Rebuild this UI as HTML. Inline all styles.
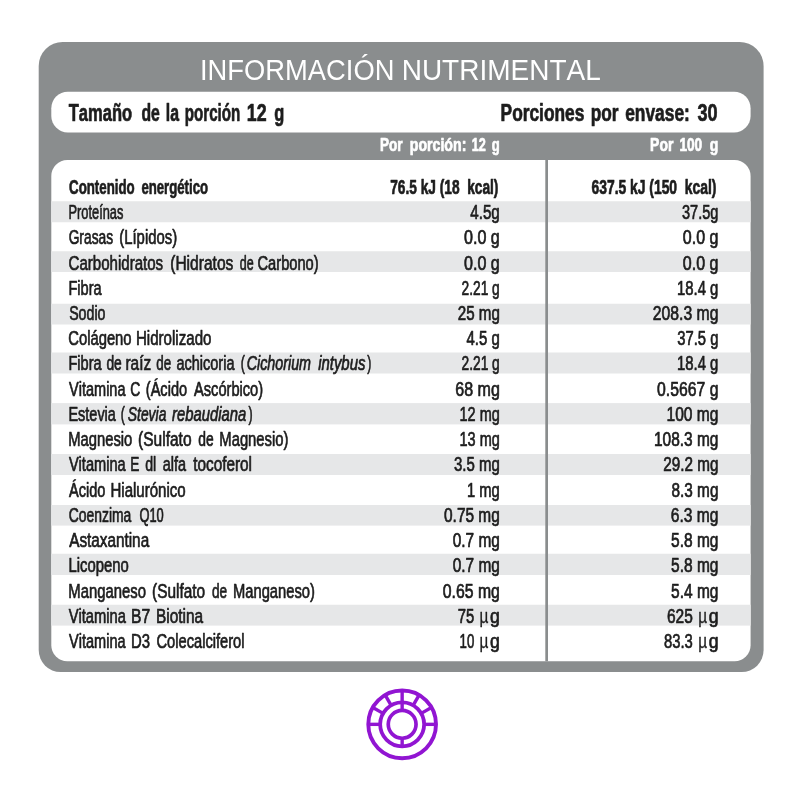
<!DOCTYPE html>
<html lang="es"><head><meta charset="utf-8"><title>Información Nutrimental</title>
<style>html,body{margin:0;padding:0;background:#fff}svg{display:block}text{font-family:"Liberation Sans",sans-serif;font-kerning:none;white-space:pre}</style></head><body>
<svg width="800" height="800" viewBox="0 0 800 800">
<rect width="800" height="800" fill="#fff"/>
<path fill="#8a8d8e" d="M62.7,42H739.6A24,24 0 0 1 763.6,66V650.1A22,22 0 0 1 741.6,672.1H60.7A22,22 0 0 1 38.7,650.1V66A24,24 0 0 1 62.7,42Z"/>
<rect x="51.3" y="91.7" width="699.3" height="40.7" rx="16.5" ry="16.5" fill="#fff"/>
<clipPath id="box"><rect x="51.3" y="160" width="699.3" height="501.3" rx="16" ry="16"/></clipPath>
<rect x="51.3" y="160" width="699.3" height="501.3" rx="16" ry="16" fill="#fff"/>
<g clip-path="url(#box)">
<rect x="51" y="201.25" width="700" height="21.00" fill="#e6e7e8"/>
<rect x="51" y="251.25" width="700" height="20.75" fill="#e6e7e8"/>
<rect x="51" y="303.75" width="700" height="20.75" fill="#e6e7e8"/>
<rect x="51" y="352.50" width="700" height="21.00" fill="#e6e7e8"/>
<rect x="51" y="403.10" width="700" height="21.30" fill="#e6e7e8"/>
<rect x="51" y="454.00" width="700" height="21.00" fill="#e6e7e8"/>
<rect x="51" y="505.00" width="700" height="20.60" fill="#e6e7e8"/>
<rect x="51" y="553.75" width="700" height="21.25" fill="#e6e7e8"/>
<rect x="51" y="604.75" width="700" height="20.85" fill="#e6e7e8"/>
<rect x="545.3" y="159" width="2.7" height="503" fill="#8a8d8e"/>
</g>
<text x="200.03" y="79.90" font-size="29.4" fill="#ffffff" textLength="194.40" lengthAdjust="spacingAndGlyphs" xml:space="preserve">INFORMACIÓN</text>
<text x="401.71" y="79.90" font-size="29.4" fill="#ffffff" textLength="199.01" lengthAdjust="spacingAndGlyphs" xml:space="preserve">NUTRIMENTAL</text>
<text x="68.69" y="120.50" font-size="23.3" fill="#1d1d1d" textLength="63.39" lengthAdjust="spacingAndGlyphs" stroke="#1d1d1d" stroke-width="0.7" stroke-linejoin="round" font-weight="bold" xml:space="preserve">Tamaño</text>
<text x="141.43" y="120.50" font-size="23.3" fill="#1d1d1d" textLength="18.36" lengthAdjust="spacingAndGlyphs" stroke="#1d1d1d" stroke-width="0.7" stroke-linejoin="round" font-weight="bold" xml:space="preserve">de</text>
<text x="165.83" y="120.50" font-size="23.3" fill="#1d1d1d" textLength="13.19" lengthAdjust="spacingAndGlyphs" stroke="#1d1d1d" stroke-width="0.7" stroke-linejoin="round" font-weight="bold" xml:space="preserve">la</text>
<text x="184.81" y="120.50" font-size="23.3" fill="#1d1d1d" textLength="55.53" lengthAdjust="spacingAndGlyphs" stroke="#1d1d1d" stroke-width="0.7" stroke-linejoin="round" font-weight="bold" xml:space="preserve">porción</text>
<text x="246.83" y="120.50" font-size="23.3" fill="#1d1d1d" textLength="19.79" lengthAdjust="spacingAndGlyphs" stroke="#1d1d1d" stroke-width="0.7" stroke-linejoin="round" font-weight="bold" xml:space="preserve">12</text>
<text x="274.17" y="120.50" font-size="23.3" fill="#1d1d1d" textLength="10.04" lengthAdjust="spacingAndGlyphs" stroke="#1d1d1d" stroke-width="0.7" stroke-linejoin="round" font-weight="bold" xml:space="preserve">g</text>
<text x="500.57" y="120.50" font-size="23.3" fill="#1d1d1d" textLength="83.82" lengthAdjust="spacingAndGlyphs" stroke="#1d1d1d" stroke-width="0.7" stroke-linejoin="round" font-weight="bold" xml:space="preserve">Porciones</text>
<text x="590.77" y="120.50" font-size="23.3" fill="#1d1d1d" textLength="27.78" lengthAdjust="spacingAndGlyphs" stroke="#1d1d1d" stroke-width="0.7" stroke-linejoin="round" font-weight="bold" xml:space="preserve">por</text>
<text x="625.18" y="120.50" font-size="23.3" fill="#1d1d1d" textLength="64.70" lengthAdjust="spacingAndGlyphs" stroke="#1d1d1d" stroke-width="0.7" stroke-linejoin="round" font-weight="bold" xml:space="preserve">envase:</text>
<text x="697.57" y="120.50" font-size="23.3" fill="#1d1d1d" textLength="20.11" lengthAdjust="spacingAndGlyphs" stroke="#1d1d1d" stroke-width="0.7" stroke-linejoin="round" font-weight="bold" xml:space="preserve">30</text>
<text x="380.06" y="151.10" font-size="17.6" fill="#ffffff" textLength="22.60" lengthAdjust="spacingAndGlyphs" stroke="#ffffff" stroke-width="0.7" stroke-linejoin="round" font-weight="bold" xml:space="preserve">Por</text>
<text x="409.78" y="151.10" font-size="17.6" fill="#ffffff" textLength="56.58" lengthAdjust="spacingAndGlyphs" stroke="#ffffff" stroke-width="0.7" stroke-linejoin="round" font-weight="bold" xml:space="preserve">porción:</text>
<text x="471.79" y="151.10" font-size="17.6" fill="#ffffff" textLength="14.05" lengthAdjust="spacingAndGlyphs" stroke="#ffffff" stroke-width="0.7" stroke-linejoin="round" font-weight="bold" xml:space="preserve">12</text>
<text x="491.79" y="151.10" font-size="17.6" fill="#ffffff" textLength="7.98" lengthAdjust="spacingAndGlyphs" stroke="#ffffff" stroke-width="0.7" stroke-linejoin="round" font-weight="bold" xml:space="preserve">g</text>
<text x="650.10" y="150.80" font-size="17.6" fill="#ffffff" textLength="23.24" lengthAdjust="spacingAndGlyphs" stroke="#ffffff" stroke-width="0.7" stroke-linejoin="round" font-weight="bold" xml:space="preserve">Por</text>
<text x="679.38" y="150.80" font-size="17.6" fill="#ffffff" textLength="22.79" lengthAdjust="spacingAndGlyphs" stroke="#ffffff" stroke-width="0.7" stroke-linejoin="round" font-weight="bold" xml:space="preserve">100</text>
<text x="709.66" y="150.80" font-size="17.6" fill="#ffffff" textLength="8.52" lengthAdjust="spacingAndGlyphs" stroke="#ffffff" stroke-width="0.7" stroke-linejoin="round" font-weight="bold" xml:space="preserve">g</text>
<text x="69.06" y="193.75" font-size="19.6" fill="#1d1d1d" textLength="65.62" lengthAdjust="spacingAndGlyphs" stroke="#1d1d1d" stroke-width="0.7" stroke-linejoin="round" font-weight="bold" xml:space="preserve">Contenido</text>
<text x="141.42" y="193.75" font-size="19.6" fill="#1d1d1d" textLength="66.64" lengthAdjust="spacingAndGlyphs" stroke="#1d1d1d" stroke-width="0.7" stroke-linejoin="round" font-weight="bold" xml:space="preserve">energético</text>
<text x="390.25" y="193.75" font-size="19.6" fill="#1d1d1d" textLength="108.13" lengthAdjust="spacingAndGlyphs" stroke="#1d1d1d" stroke-width="0.7" stroke-linejoin="round" font-weight="bold" xml:space="preserve">76.5 kJ (18  kcal)</text>
<text x="591.50" y="193.75" font-size="19.6" fill="#1d1d1d" textLength="124.87" lengthAdjust="spacingAndGlyphs" stroke="#1d1d1d" stroke-width="0.7" stroke-linejoin="round" font-weight="bold" xml:space="preserve">637.5 kJ (150  kcal)</text>
<text x="68.48" y="219.10" font-size="19.6" fill="#1d1d1d" textLength="54.91" lengthAdjust="spacingAndGlyphs" stroke="#1d1d1d" stroke-width="0.7" stroke-linejoin="round" xml:space="preserve">Proteínas</text>
<text x="470.28" y="219.10" font-size="19.6" fill="#1d1d1d" textLength="29.54" lengthAdjust="spacingAndGlyphs" stroke="#1d1d1d" stroke-width="0.7" stroke-linejoin="round" xml:space="preserve">4.5g</text>
<text x="682.01" y="219.10" font-size="19.6" fill="#1d1d1d" textLength="36.39" lengthAdjust="spacingAndGlyphs" stroke="#1d1d1d" stroke-width="0.7" stroke-linejoin="round" xml:space="preserve">37.5g</text>
<text x="68.65" y="244.33" font-size="19.6" fill="#1d1d1d" textLength="44.46" lengthAdjust="spacingAndGlyphs" stroke="#1d1d1d" stroke-width="0.7" stroke-linejoin="round" xml:space="preserve">Grasas</text>
<text x="119.26" y="244.33" font-size="19.6" fill="#1d1d1d" textLength="57.87" lengthAdjust="spacingAndGlyphs" stroke="#1d1d1d" stroke-width="0.7" stroke-linejoin="round" xml:space="preserve">(Lípidos)</text>
<text x="464.04" y="244.33" font-size="19.6" fill="#1d1d1d" textLength="35.80" lengthAdjust="spacingAndGlyphs" stroke="#1d1d1d" stroke-width="0.7" stroke-linejoin="round" xml:space="preserve">0.0 g</text>
<text x="682.79" y="244.33" font-size="19.6" fill="#1d1d1d" textLength="35.65" lengthAdjust="spacingAndGlyphs" stroke="#1d1d1d" stroke-width="0.7" stroke-linejoin="round" xml:space="preserve">0.0 g</text>
<text x="68.58" y="269.56" font-size="19.6" fill="#1d1d1d" textLength="94.56" lengthAdjust="spacingAndGlyphs" stroke="#1d1d1d" stroke-width="0.7" stroke-linejoin="round" xml:space="preserve">Carbohidratos</text>
<text x="170.21" y="269.56" font-size="19.6" fill="#1d1d1d" textLength="63.13" lengthAdjust="spacingAndGlyphs" stroke="#1d1d1d" stroke-width="0.7" stroke-linejoin="round" xml:space="preserve">(Hidratos</text>
<text x="239.80" y="269.56" font-size="19.6" fill="#1d1d1d" textLength="13.93" lengthAdjust="spacingAndGlyphs" stroke="#1d1d1d" stroke-width="0.7" stroke-linejoin="round" xml:space="preserve">de</text>
<text x="257.54" y="269.56" font-size="19.6" fill="#1d1d1d" textLength="61.11" lengthAdjust="spacingAndGlyphs" stroke="#1d1d1d" stroke-width="0.7" stroke-linejoin="round" xml:space="preserve">Carbono)</text>
<text x="464.04" y="269.56" font-size="19.6" fill="#1d1d1d" textLength="35.80" lengthAdjust="spacingAndGlyphs" stroke="#1d1d1d" stroke-width="0.7" stroke-linejoin="round" xml:space="preserve">0.0 g</text>
<text x="682.79" y="269.56" font-size="19.6" fill="#1d1d1d" textLength="35.65" lengthAdjust="spacingAndGlyphs" stroke="#1d1d1d" stroke-width="0.7" stroke-linejoin="round" xml:space="preserve">0.0 g</text>
<text x="68.42" y="294.79" font-size="19.6" fill="#1d1d1d" textLength="33.24" lengthAdjust="spacingAndGlyphs" stroke="#1d1d1d" stroke-width="0.7" stroke-linejoin="round" xml:space="preserve">Fibra</text>
<text x="461.50" y="294.79" font-size="19.6" fill="#1d1d1d" textLength="38.28" lengthAdjust="spacingAndGlyphs" stroke="#1d1d1d" stroke-width="0.7" stroke-linejoin="round" xml:space="preserve">2.21 g</text>
<text x="677.01" y="294.79" font-size="19.6" fill="#1d1d1d" textLength="41.40" lengthAdjust="spacingAndGlyphs" stroke="#1d1d1d" stroke-width="0.7" stroke-linejoin="round" xml:space="preserve">18.4 g</text>
<text x="69.16" y="320.02" font-size="19.6" fill="#1d1d1d" textLength="36.26" lengthAdjust="spacingAndGlyphs" stroke="#1d1d1d" stroke-width="0.7" stroke-linejoin="round" xml:space="preserve">Sodio</text>
<text x="457.77" y="320.02" font-size="19.6" fill="#1d1d1d" textLength="42.05" lengthAdjust="spacingAndGlyphs" stroke="#1d1d1d" stroke-width="0.7" stroke-linejoin="round" xml:space="preserve">25 mg</text>
<text x="652.78" y="320.02" font-size="19.6" fill="#1d1d1d" textLength="65.65" lengthAdjust="spacingAndGlyphs" stroke="#1d1d1d" stroke-width="0.7" stroke-linejoin="round" xml:space="preserve">208.3 mg</text>
<text x="68.23" y="345.25" font-size="19.6" fill="#1d1d1d" textLength="63.35" lengthAdjust="spacingAndGlyphs" stroke="#1d1d1d" stroke-width="0.7" stroke-linejoin="round" xml:space="preserve">Colágeno</text>
<text x="135.93" y="345.25" font-size="19.6" fill="#1d1d1d" textLength="75.54" lengthAdjust="spacingAndGlyphs" stroke="#1d1d1d" stroke-width="0.7" stroke-linejoin="round" xml:space="preserve">Hidrolizado</text>
<text x="466.52" y="345.25" font-size="19.6" fill="#1d1d1d" textLength="33.29" lengthAdjust="spacingAndGlyphs" stroke="#1d1d1d" stroke-width="0.7" stroke-linejoin="round" xml:space="preserve">4.5 g</text>
<text x="677.27" y="345.25" font-size="19.6" fill="#1d1d1d" textLength="41.14" lengthAdjust="spacingAndGlyphs" stroke="#1d1d1d" stroke-width="0.7" stroke-linejoin="round" xml:space="preserve">37.5 g</text>
<text x="68.48" y="370.48" font-size="19.6" fill="#1d1d1d" textLength="33.13" lengthAdjust="spacingAndGlyphs" stroke="#1d1d1d" stroke-width="0.7" stroke-linejoin="round" xml:space="preserve">Fibra</text>
<text x="106.39" y="370.48" font-size="19.6" fill="#1d1d1d" textLength="15.40" lengthAdjust="spacingAndGlyphs" stroke="#1d1d1d" stroke-width="0.7" stroke-linejoin="round" xml:space="preserve">de</text>
<text x="125.45" y="370.48" font-size="19.6" fill="#1d1d1d" textLength="25.68" lengthAdjust="spacingAndGlyphs" stroke="#1d1d1d" stroke-width="0.7" stroke-linejoin="round" xml:space="preserve">raíz</text>
<text x="156.25" y="370.48" font-size="19.6" fill="#1d1d1d" textLength="14.93" lengthAdjust="spacingAndGlyphs" stroke="#1d1d1d" stroke-width="0.7" stroke-linejoin="round" xml:space="preserve">de</text>
<text x="176.45" y="370.48" font-size="19.6" fill="#1d1d1d" textLength="58.02" lengthAdjust="spacingAndGlyphs" stroke="#1d1d1d" stroke-width="0.7" stroke-linejoin="round" xml:space="preserve">achicoria</text>
<text x="240.82" y="370.48" font-size="19.6" fill="#1d1d1d" textLength="4.17" lengthAdjust="spacingAndGlyphs" stroke="#1d1d1d" stroke-width="0.7" stroke-linejoin="round" xml:space="preserve">(</text>
<text x="246.70" y="370.48" font-size="19.6" fill="#1d1d1d" textLength="64.35" lengthAdjust="spacingAndGlyphs" stroke="#1d1d1d" stroke-width="0.7" stroke-linejoin="round" font-style="italic" xml:space="preserve">Cichorium</text>
<text x="318.13" y="370.48" font-size="19.6" fill="#1d1d1d" textLength="47.33" lengthAdjust="spacingAndGlyphs" stroke="#1d1d1d" stroke-width="0.7" stroke-linejoin="round" font-style="italic" xml:space="preserve">intybus</text>
<text x="367.37" y="370.48" font-size="19.6" fill="#1d1d1d" textLength="4.04" lengthAdjust="spacingAndGlyphs" stroke="#1d1d1d" stroke-width="0.7" stroke-linejoin="round" xml:space="preserve">)</text>
<text x="461.50" y="370.48" font-size="19.6" fill="#1d1d1d" textLength="38.28" lengthAdjust="spacingAndGlyphs" stroke="#1d1d1d" stroke-width="0.7" stroke-linejoin="round" xml:space="preserve">2.21 g</text>
<text x="677.01" y="370.48" font-size="19.6" fill="#1d1d1d" textLength="41.40" lengthAdjust="spacingAndGlyphs" stroke="#1d1d1d" stroke-width="0.7" stroke-linejoin="round" xml:space="preserve">18.4 g</text>
<text x="69.09" y="395.71" font-size="19.6" fill="#1d1d1d" textLength="56.40" lengthAdjust="spacingAndGlyphs" stroke="#1d1d1d" stroke-width="0.7" stroke-linejoin="round" xml:space="preserve">Vitamina</text>
<text x="130.30" y="395.71" font-size="19.6" fill="#1d1d1d" textLength="10.04" lengthAdjust="spacingAndGlyphs" stroke="#1d1d1d" stroke-width="0.7" stroke-linejoin="round" xml:space="preserve">C</text>
<text x="145.81" y="395.71" font-size="19.6" fill="#1d1d1d" textLength="41.30" lengthAdjust="spacingAndGlyphs" stroke="#1d1d1d" stroke-width="0.7" stroke-linejoin="round" xml:space="preserve">(Ácido</text>
<text x="194.05" y="395.71" font-size="19.6" fill="#1d1d1d" textLength="69.05" lengthAdjust="spacingAndGlyphs" stroke="#1d1d1d" stroke-width="0.7" stroke-linejoin="round" xml:space="preserve">Ascórbico)</text>
<text x="455.22" y="395.71" font-size="19.6" fill="#1d1d1d" textLength="44.62" lengthAdjust="spacingAndGlyphs" stroke="#1d1d1d" stroke-width="0.7" stroke-linejoin="round" xml:space="preserve">68 mg</text>
<text x="657.03" y="395.71" font-size="19.6" fill="#1d1d1d" textLength="61.40" lengthAdjust="spacingAndGlyphs" stroke="#1d1d1d" stroke-width="0.7" stroke-linejoin="round" xml:space="preserve">0.5667 g</text>
<text x="68.45" y="420.94" font-size="19.6" fill="#1d1d1d" textLength="47.43" lengthAdjust="spacingAndGlyphs" stroke="#1d1d1d" stroke-width="0.7" stroke-linejoin="round" xml:space="preserve">Estevia</text>
<text x="120.83" y="420.94" font-size="19.6" fill="#1d1d1d" textLength="4.16" lengthAdjust="spacingAndGlyphs" stroke="#1d1d1d" stroke-width="0.7" stroke-linejoin="round" xml:space="preserve">(</text>
<text x="127.84" y="420.94" font-size="19.6" fill="#1d1d1d" textLength="38.51" lengthAdjust="spacingAndGlyphs" stroke="#1d1d1d" stroke-width="0.7" stroke-linejoin="round" font-style="italic" xml:space="preserve">Stevia</text>
<text x="171.98" y="420.94" font-size="19.6" fill="#1d1d1d" textLength="74.20" lengthAdjust="spacingAndGlyphs" stroke="#1d1d1d" stroke-width="0.7" stroke-linejoin="round" font-style="italic" xml:space="preserve">rebaudiana</text>
<text x="248.50" y="420.94" font-size="19.6" fill="#1d1d1d" textLength="4.12" lengthAdjust="spacingAndGlyphs" stroke="#1d1d1d" stroke-width="0.7" stroke-linejoin="round" xml:space="preserve">)</text>
<text x="459.52" y="420.94" font-size="19.6" fill="#1d1d1d" textLength="40.28" lengthAdjust="spacingAndGlyphs" stroke="#1d1d1d" stroke-width="0.7" stroke-linejoin="round" xml:space="preserve">12 mg</text>
<text x="666.49" y="420.94" font-size="19.6" fill="#1d1d1d" textLength="51.95" lengthAdjust="spacingAndGlyphs" stroke="#1d1d1d" stroke-width="0.7" stroke-linejoin="round" xml:space="preserve">100 mg</text>
<text x="68.24" y="446.17" font-size="19.6" fill="#1d1d1d" textLength="64.09" lengthAdjust="spacingAndGlyphs" stroke="#1d1d1d" stroke-width="0.7" stroke-linejoin="round" xml:space="preserve">Magnesio</text>
<text x="138.07" y="446.17" font-size="19.6" fill="#1d1d1d" textLength="53.49" lengthAdjust="spacingAndGlyphs" stroke="#1d1d1d" stroke-width="0.7" stroke-linejoin="round" xml:space="preserve">(Sulfato</text>
<text x="198.27" y="446.17" font-size="19.6" fill="#1d1d1d" textLength="15.38" lengthAdjust="spacingAndGlyphs" stroke="#1d1d1d" stroke-width="0.7" stroke-linejoin="round" xml:space="preserve">de</text>
<text x="219.33" y="446.17" font-size="19.6" fill="#1d1d1d" textLength="69.07" lengthAdjust="spacingAndGlyphs" stroke="#1d1d1d" stroke-width="0.7" stroke-linejoin="round" xml:space="preserve">Magnesio)</text>
<text x="459.52" y="446.17" font-size="19.6" fill="#1d1d1d" textLength="40.28" lengthAdjust="spacingAndGlyphs" stroke="#1d1d1d" stroke-width="0.7" stroke-linejoin="round" xml:space="preserve">13 mg</text>
<text x="653.99" y="446.17" font-size="19.6" fill="#1d1d1d" textLength="64.44" lengthAdjust="spacingAndGlyphs" stroke="#1d1d1d" stroke-width="0.7" stroke-linejoin="round" xml:space="preserve">108.3 mg</text>
<text x="68.88" y="471.40" font-size="19.6" fill="#1d1d1d" textLength="56.81" lengthAdjust="spacingAndGlyphs" stroke="#1d1d1d" stroke-width="0.7" stroke-linejoin="round" xml:space="preserve">Vitamina</text>
<text x="130.23" y="471.40" font-size="19.6" fill="#1d1d1d" textLength="9.13" lengthAdjust="spacingAndGlyphs" stroke="#1d1d1d" stroke-width="0.7" stroke-linejoin="round" xml:space="preserve">E</text>
<text x="145.24" y="471.40" font-size="19.6" fill="#1d1d1d" textLength="11.03" lengthAdjust="spacingAndGlyphs" stroke="#1d1d1d" stroke-width="0.7" stroke-linejoin="round" xml:space="preserve">dl</text>
<text x="162.67" y="471.40" font-size="19.6" fill="#1d1d1d" textLength="23.33" lengthAdjust="spacingAndGlyphs" stroke="#1d1d1d" stroke-width="0.7" stroke-linejoin="round" xml:space="preserve">alfa</text>
<text x="193.25" y="471.40" font-size="19.6" fill="#1d1d1d" textLength="58.77" lengthAdjust="spacingAndGlyphs" stroke="#1d1d1d" stroke-width="0.7" stroke-linejoin="round" xml:space="preserve">tocoferol</text>
<text x="454.02" y="471.40" font-size="19.6" fill="#1d1d1d" textLength="45.79" lengthAdjust="spacingAndGlyphs" stroke="#1d1d1d" stroke-width="0.7" stroke-linejoin="round" xml:space="preserve">3.5 mg</text>
<text x="663.28" y="471.40" font-size="19.6" fill="#1d1d1d" textLength="55.15" lengthAdjust="spacingAndGlyphs" stroke="#1d1d1d" stroke-width="0.7" stroke-linejoin="round" xml:space="preserve">29.2 mg</text>
<text x="68.98" y="496.63" font-size="19.6" fill="#1d1d1d" textLength="36.36" lengthAdjust="spacingAndGlyphs" stroke="#1d1d1d" stroke-width="0.7" stroke-linejoin="round" xml:space="preserve">Ácido</text>
<text x="110.44" y="496.63" font-size="19.6" fill="#1d1d1d" textLength="75.28" lengthAdjust="spacingAndGlyphs" stroke="#1d1d1d" stroke-width="0.7" stroke-linejoin="round" xml:space="preserve">Hialurónico</text>
<text x="467.02" y="496.63" font-size="19.6" fill="#1d1d1d" textLength="32.79" lengthAdjust="spacingAndGlyphs" stroke="#1d1d1d" stroke-width="0.7" stroke-linejoin="round" xml:space="preserve">1 mg</text>
<text x="671.53" y="496.63" font-size="19.6" fill="#1d1d1d" textLength="46.90" lengthAdjust="spacingAndGlyphs" stroke="#1d1d1d" stroke-width="0.7" stroke-linejoin="round" xml:space="preserve">8.3 mg</text>
<text x="68.76" y="521.86" font-size="19.6" fill="#1d1d1d" textLength="62.60" lengthAdjust="spacingAndGlyphs" stroke="#1d1d1d" stroke-width="0.7" stroke-linejoin="round" xml:space="preserve">Coenzima</text>
<text x="139.42" y="521.86" font-size="19.6" fill="#1d1d1d" textLength="24.35" lengthAdjust="spacingAndGlyphs" stroke="#1d1d1d" stroke-width="0.7" stroke-linejoin="round" xml:space="preserve">Q10</text>
<text x="444.03" y="521.86" font-size="19.6" fill="#1d1d1d" textLength="55.80" lengthAdjust="spacingAndGlyphs" stroke="#1d1d1d" stroke-width="0.7" stroke-linejoin="round" xml:space="preserve">0.75 mg</text>
<text x="670.74" y="521.86" font-size="19.6" fill="#1d1d1d" textLength="47.70" lengthAdjust="spacingAndGlyphs" stroke="#1d1d1d" stroke-width="0.7" stroke-linejoin="round" xml:space="preserve">6.3 mg</text>
<text x="69.18" y="547.09" font-size="19.6" fill="#1d1d1d" textLength="79.97" lengthAdjust="spacingAndGlyphs" stroke="#1d1d1d" stroke-width="0.7" stroke-linejoin="round" xml:space="preserve">Astaxantina</text>
<text x="452.78" y="547.09" font-size="19.6" fill="#1d1d1d" textLength="47.05" lengthAdjust="spacingAndGlyphs" stroke="#1d1d1d" stroke-width="0.7" stroke-linejoin="round" xml:space="preserve">0.7 mg</text>
<text x="671.03" y="547.09" font-size="19.6" fill="#1d1d1d" textLength="47.40" lengthAdjust="spacingAndGlyphs" stroke="#1d1d1d" stroke-width="0.7" stroke-linejoin="round" xml:space="preserve">5.8 mg</text>
<text x="68.41" y="572.32" font-size="19.6" fill="#1d1d1d" textLength="60.24" lengthAdjust="spacingAndGlyphs" stroke="#1d1d1d" stroke-width="0.7" stroke-linejoin="round" xml:space="preserve">Licopeno</text>
<text x="452.78" y="572.32" font-size="19.6" fill="#1d1d1d" textLength="47.05" lengthAdjust="spacingAndGlyphs" stroke="#1d1d1d" stroke-width="0.7" stroke-linejoin="round" xml:space="preserve">0.7 mg</text>
<text x="671.03" y="572.32" font-size="19.6" fill="#1d1d1d" textLength="47.40" lengthAdjust="spacingAndGlyphs" stroke="#1d1d1d" stroke-width="0.7" stroke-linejoin="round" xml:space="preserve">5.8 mg</text>
<text x="68.37" y="597.55" font-size="19.6" fill="#1d1d1d" textLength="77.58" lengthAdjust="spacingAndGlyphs" stroke="#1d1d1d" stroke-width="0.7" stroke-linejoin="round" xml:space="preserve">Manganeso</text>
<text x="152.03" y="597.55" font-size="19.6" fill="#1d1d1d" textLength="53.07" lengthAdjust="spacingAndGlyphs" stroke="#1d1d1d" stroke-width="0.7" stroke-linejoin="round" xml:space="preserve">(Sulfato</text>
<text x="211.99" y="597.55" font-size="19.6" fill="#1d1d1d" textLength="15.19" lengthAdjust="spacingAndGlyphs" stroke="#1d1d1d" stroke-width="0.7" stroke-linejoin="round" xml:space="preserve">de</text>
<text x="233.03" y="597.55" font-size="19.6" fill="#1d1d1d" textLength="81.84" lengthAdjust="spacingAndGlyphs" stroke="#1d1d1d" stroke-width="0.7" stroke-linejoin="round" xml:space="preserve">Manganeso)</text>
<text x="442.78" y="597.55" font-size="19.6" fill="#1d1d1d" textLength="57.05" lengthAdjust="spacingAndGlyphs" stroke="#1d1d1d" stroke-width="0.7" stroke-linejoin="round" xml:space="preserve">0.65 mg</text>
<text x="671.03" y="597.55" font-size="19.6" fill="#1d1d1d" textLength="47.40" lengthAdjust="spacingAndGlyphs" stroke="#1d1d1d" stroke-width="0.7" stroke-linejoin="round" xml:space="preserve">5.4 mg</text>
<text x="68.67" y="622.78" font-size="19.6" fill="#1d1d1d" textLength="57.24" lengthAdjust="spacingAndGlyphs" stroke="#1d1d1d" stroke-width="0.7" stroke-linejoin="round" xml:space="preserve">Vitamina</text>
<text x="131.00" y="622.78" font-size="19.6" fill="#1d1d1d" textLength="19.17" lengthAdjust="spacingAndGlyphs" stroke="#1d1d1d" stroke-width="0.7" stroke-linejoin="round" xml:space="preserve">B7</text>
<text x="155.98" y="622.78" font-size="19.6" fill="#1d1d1d" textLength="47.18" lengthAdjust="spacingAndGlyphs" stroke="#1d1d1d" stroke-width="0.7" stroke-linejoin="round" xml:space="preserve">Biotina</text>
<text x="457.77" y="622.78" font-size="19.6" fill="#1d1d1d" textLength="16.48" lengthAdjust="spacingAndGlyphs" stroke="#1d1d1d" stroke-width="0.7" stroke-linejoin="round" xml:space="preserve">75</text>
<text x="479.62" y="622.78" font-size="19.992" fill="#1d1d1d" textLength="8.86" lengthAdjust="spacingAndGlyphs" stroke="#1d1d1d" stroke-width="0.3" stroke-linejoin="round" font-family='"Liberation Serif",serif' xml:space="preserve">µ</text>
<text x="490.04" y="622.78" font-size="19.6" fill="#1d1d1d" textLength="9.83" lengthAdjust="spacingAndGlyphs" stroke="#1d1d1d" stroke-width="0.7" stroke-linejoin="round" xml:space="preserve">g</text>
<text x="666.99" y="622.78" font-size="19.6" fill="#1d1d1d" textLength="25.84" lengthAdjust="spacingAndGlyphs" stroke="#1d1d1d" stroke-width="0.7" stroke-linejoin="round" xml:space="preserve">625</text>
<text x="698.22" y="622.78" font-size="19.992" fill="#1d1d1d" textLength="8.86" lengthAdjust="spacingAndGlyphs" stroke="#1d1d1d" stroke-width="0.3" stroke-linejoin="round" font-family='"Liberation Serif",serif' xml:space="preserve">µ</text>
<text x="708.64" y="622.78" font-size="19.6" fill="#1d1d1d" textLength="9.83" lengthAdjust="spacingAndGlyphs" stroke="#1d1d1d" stroke-width="0.7" stroke-linejoin="round" xml:space="preserve">g</text>
<text x="69.03" y="648.01" font-size="19.6" fill="#1d1d1d" textLength="56.52" lengthAdjust="spacingAndGlyphs" stroke="#1d1d1d" stroke-width="0.7" stroke-linejoin="round" xml:space="preserve">Vitamina</text>
<text x="130.94" y="648.01" font-size="19.6" fill="#1d1d1d" textLength="19.03" lengthAdjust="spacingAndGlyphs" stroke="#1d1d1d" stroke-width="0.7" stroke-linejoin="round" xml:space="preserve">D3</text>
<text x="156.47" y="648.01" font-size="19.6" fill="#1d1d1d" textLength="88.07" lengthAdjust="spacingAndGlyphs" stroke="#1d1d1d" stroke-width="0.7" stroke-linejoin="round" xml:space="preserve">Colecalciferol</text>
<text x="459.57" y="648.01" font-size="19.6" fill="#1d1d1d" textLength="14.72" lengthAdjust="spacingAndGlyphs" stroke="#1d1d1d" stroke-width="0.7" stroke-linejoin="round" xml:space="preserve">10</text>
<text x="479.62" y="648.01" font-size="19.992" fill="#1d1d1d" textLength="8.86" lengthAdjust="spacingAndGlyphs" stroke="#1d1d1d" stroke-width="0.3" stroke-linejoin="round" font-family='"Liberation Serif",serif' xml:space="preserve">µ</text>
<text x="490.04" y="648.01" font-size="19.6" fill="#1d1d1d" textLength="9.83" lengthAdjust="spacingAndGlyphs" stroke="#1d1d1d" stroke-width="0.7" stroke-linejoin="round" xml:space="preserve">g</text>
<text x="664.02" y="648.01" font-size="19.6" fill="#1d1d1d" textLength="28.83" lengthAdjust="spacingAndGlyphs" stroke="#1d1d1d" stroke-width="0.7" stroke-linejoin="round" xml:space="preserve">83.3</text>
<text x="698.22" y="648.01" font-size="19.992" fill="#1d1d1d" textLength="8.86" lengthAdjust="spacingAndGlyphs" stroke="#1d1d1d" stroke-width="0.3" stroke-linejoin="round" font-family='"Liberation Serif",serif' xml:space="preserve">µ</text>
<text x="708.64" y="648.01" font-size="19.6" fill="#1d1d1d" textLength="9.83" lengthAdjust="spacingAndGlyphs" stroke="#1d1d1d" stroke-width="0.7" stroke-linejoin="round" xml:space="preserve">g</text>
<g fill="none" stroke="#9115d2" stroke-width="3.4">
<circle cx="402.15" cy="724.35" r="33.85" stroke-width="3.9"/>
<circle cx="402.15" cy="724.35" r="22.0" stroke-width="3.8"/>
<circle cx="402.15" cy="724.35" r="13.9" stroke-width="3.7"/>
<line x1="424.15" y1="724.35" x2="436.00" y2="724.35"/>
<line x1="421.20" y1="713.35" x2="431.46" y2="707.43"/>
<line x1="413.15" y1="705.30" x2="419.07" y2="695.04"/>
<line x1="391.15" y1="705.30" x2="385.22" y2="695.04"/>
<line x1="383.10" y1="713.35" x2="372.84" y2="707.43"/>
<line x1="380.15" y1="724.35" x2="368.30" y2="724.35"/>
<line x1="402.15" y1="690.5" x2="402.15" y2="710.45"/>
<line x1="402.15" y1="738.25" x2="402.15" y2="746.35"/>
</g>
</svg></body></html>
